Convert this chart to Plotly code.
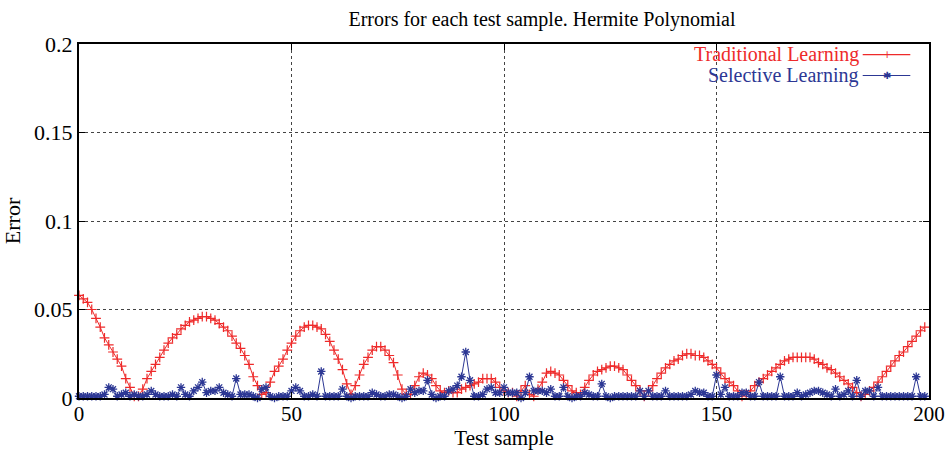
import plotly.graph_objects as go

samples = list(range(200))

traditional = [
    0.058, 0.056, 0.054, 0.050, 0.045, 0.040, 0.034, 0.030, 0.026, 0.022,
    0.018, 0.011, 0.006, 0.001, 0.001, 0.005, 0.011, 0.015, 0.019, 0.023,
    0.027, 0.031, 0.034, 0.036, 0.039, 0.041, 0.043, 0.044, 0.045, 0.046,
    0.046, 0.045, 0.044, 0.042, 0.040, 0.038, 0.035, 0.031, 0.028, 0.024,
    0.019, 0.012, 0.007, 0.002, 0.003, 0.009, 0.015, 0.018, 0.022, 0.027,
    0.031, 0.035, 0.038, 0.040, 0.041, 0.041, 0.040, 0.039, 0.036, 0.032,
    0.027, 0.022, 0.016, 0.008, 0.002, 0.007, 0.013, 0.019, 0.023, 0.027,
    0.029, 0.029, 0.027, 0.024, 0.020, 0.013, 0.005, 0.002, 0.002, 0.007,
    0.012, 0.014, 0.013, 0.011, 0.007, 0.004, 0.003, 0.004, 0.003, 0.003,
    0.005, 0.006, 0.007, 0.008, 0.009, 0.011, 0.011, 0.011, 0.009, 0.006,
    0.004, 0.003, 0.003, 0.001, 0.004, 0.007, 0.002, 0.001, 0.005, 0.009,
    0.014, 0.015, 0.014, 0.013, 0.010, 0.007, 0.004, 0.003, 0.002, 0.006,
    0.010, 0.013, 0.015, 0.016, 0.017, 0.018, 0.018, 0.017, 0.016, 0.013,
    0.010, 0.007, 0.004, 0.001, 0.004, 0.007, 0.011, 0.014, 0.017, 0.019,
    0.021, 0.022, 0.024, 0.025, 0.025, 0.024, 0.024, 0.023, 0.021, 0.019,
    0.017, 0.014, 0.011, 0.009, 0.007, 0.004, 0.001, 0.002, 0.004, 0.007,
    0.009, 0.011, 0.013, 0.015, 0.017, 0.019, 0.021, 0.022, 0.023, 0.023,
    0.023, 0.023, 0.023, 0.022, 0.020, 0.019, 0.017, 0.016, 0.014, 0.012,
    0.010, 0.008, 0.006, 0.003, 0.001, 0.002, 0.004, 0.006, 0.009, 0.012,
    0.015, 0.018, 0.021, 0.024, 0.026, 0.029, 0.032, 0.035, 0.038, 0.040,
]

selective = [
    0.001, 0.001, 0.001, 0.001, 0.001, 0.001, 0.002, 0.006, 0.005, 0.001,
    0.002, 0.003, 0.001, 0.002, 0.001, 0.001, 0.002, 0.004, 0.002, 0.001,
    0.001, 0.001, 0.002, 0.001, 0.006, 0.002, 0.001, 0.004, 0.006, 0.009,
    0.003, 0.004, 0.004, 0.006, 0.003, 0.002, 0.001, 0.011, 0.002, 0.002,
    0.002, 0.001, 0.000, 0.005, 0.006, 0.001, 0.000, 0.001, 0.001, 0.001,
    0.004, 0.006, 0.004, 0.001, 0.001, 0.002, 0.001, 0.015, 0.001, 0.001,
    0.001, 0.001, 0.005, 0.001, 0.000, 0.001, 0.001, 0.001, 0.001, 0.003,
    0.002, 0.001, 0.001, 0.002, 0.002, 0.001, 0.000, 0.001, 0.005, 0.003,
    0.004, 0.004, 0.010, 0.002, 0.000, 0.001, 0.001, 0.004, 0.005, 0.007,
    0.012, 0.026, 0.010, 0.001, 0.001, 0.002, 0.005, 0.006, 0.003, 0.003,
    0.006, 0.003, 0.003, 0.003, 0.000, 0.003, 0.012, 0.004, 0.004, 0.004,
    0.003, 0.005, 0.001, 0.001, 0.006, 0.001, 0.000, 0.001, 0.001, 0.003,
    0.002, 0.001, 0.001, 0.008, 0.001, 0.000, 0.001, 0.001, 0.001, 0.001,
    0.001, 0.001, 0.004, 0.001, 0.004, 0.001, 0.001, 0.001, 0.004, 0.001,
    0.001, 0.001, 0.001, 0.001, 0.002, 0.004, 0.003, 0.003, 0.001, 0.001,
    0.013, 0.002, 0.006, 0.001, 0.001, 0.001, 0.003, 0.003, 0.001, 0.001,
    0.009, 0.001, 0.001, 0.001, 0.001, 0.012, 0.001, 0.001, 0.001, 0.003,
    0.001, 0.002, 0.003, 0.004, 0.004, 0.003, 0.002, 0.001, 0.005, 0.001,
    0.002, 0.004, 0.001, 0.010, 0.001, 0.004, 0.004, 0.001, 0.006, 0.001,
    0.001, 0.001, 0.001, 0.001, 0.001, 0.001, 0.001, 0.012, 0.001, 0.001,
]

x_ticks = [0, 50, 100, 150, 200]
y_ticks = [0, 0.05, 0.1, 0.15, 0.2]
y_tick_labels = ["0", "0.05", "0.1", "0.15", "0.2"]

RED = "#ee2a2a"
BLUE = "#2c3794"
FONT = "Liberation Serif, Times New Roman, serif"

fig = go.Figure()
fig.add_trace(go.Scatter(
    x=samples, y=traditional, mode="lines+markers", name="Traditional Learning",
    line=dict(color=RED, width=1),
    marker=dict(symbol="cross-thin", size=7, line=dict(color=RED, width=1.2)),
    cliponaxis=False, showlegend=False,
))
fig.add_trace(go.Scatter(
    x=samples, y=selective, mode="lines+markers", name="Selective Learning",
    line=dict(color=BLUE, width=1),
    marker=dict(symbol="asterisk-open", size=7, line=dict(color=BLUE, width=1.3)),
    cliponaxis=False, showlegend=False,
))

axis_common = dict(
    showline=True, linecolor="black", linewidth=2, mirror="ticks",
    ticks="inside", ticklen=6, tickwidth=1, tickcolor="black",
    showgrid=True, gridcolor="#444", griddash="dot", gridwidth=1,
    zeroline=False, automargin=False,
)

fig.update_layout(
    width=951, height=450,
    margin=dict(l=79, r=22, t=44, b=52),
    paper_bgcolor="white", plot_bgcolor="white",
    font=dict(family=FONT, color="black"),
    title=dict(text="Errors for each test sample. Hermite Polynomial",
               x=542 / 951, xanchor="center", y=1 - 19 / 450, yanchor="middle",
               font=dict(family=FONT, size=20, color="black")),
    xaxis=dict(range=[0, 200], tickvals=x_ticks, ticktext=[str(v) for v in x_ticks],
               tickfont=dict(family=FONT, size=21, color="black"), ticklabelstandoff=-4,
               title=dict(text="Test sample", font=dict(family=FONT, size=21), standoff=4),
               **axis_common),
    yaxis=dict(range=[0, 0.2], tickvals=y_ticks, ticktext=y_tick_labels,
               tickfont=dict(family=FONT, size=22, color="black"),
               title=dict(text="Error", font=dict(family=FONT, size=22), standoff=8),
               **axis_common),
)

# Legend (gnuplot style: text right-aligned, line sample on the right)
legend_items = [("Traditional Learning", RED, 0.970, "+"), ("Selective Learning", BLUE, 0.911, "✱")]
for text, color, yy, sym in legend_items:
    fig.add_annotation(x=0.919, y=yy, xref="paper", yref="paper", text=text,
                       showarrow=False, xanchor="right", yanchor="middle", borderpad=0,
                       font=dict(family=FONT, size=20, color=color))
    fig.add_shape(type="line", xref="paper", yref="paper", x0=0.922, x1=0.978,
                  y0=yy, y1=yy, line=dict(color=color, width=1.2))
    fig.add_annotation(x=0.951, y=yy, xref="paper", yref="paper", text=sym,
                       showarrow=False, xanchor="center", yanchor="middle",
                       font=dict(family="DejaVu Sans", size=10, color=color))

fig.write_html("out.html")
